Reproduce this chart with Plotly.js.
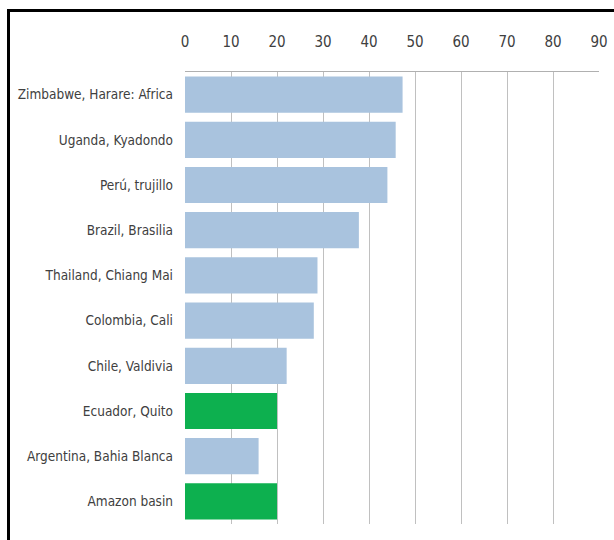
<!DOCTYPE html>
<html>
<head>
<meta charset="utf-8">
<script src="https://cdn.plot.ly/plotly-3.0.1.min.js"></script>
<style>
  html, body { margin: 0; padding: 0; background: #ffffff; }
  #wrap { position: relative; width: 614px; height: 540px; overflow: hidden; }
  #chart { position: absolute; left: 0; top: 0; width: 614px; height: 540px; }
  #frame { position: absolute; left: 7px; top: 9px; width: 700px; height: 600px;
           border-left: 3px solid #000; border-top: 3px solid #000; pointer-events: none; }
</style>
</head>
<body>
<div id="wrap">
  <div id="chart"></div>
  <div id="frame"></div>
</div>
<script>
// Categories, top to bottom
const categories = [
  "Zimbabwe, Harare: Africa",
  "Uganda, Kyadondo",
  "Perú, trujillo",
  "Brazil, Brasilia",
  "Thailand, Chiang Mai",
  "Colombia, Cali",
  "Chile, Valdivia",
  "Ecuador, Quito",
  "Argentina, Bahia Blanca",
  "Amazon basin"
];
const values = [47.3, 45.8, 44.0, 37.8, 28.8, 28.0, 22.1, 20.0, 16.0, 20.0];
const highlighted = ["Ecuador, Quito", "Amazon basin"];
const tickValues = [0, 10, 20, 30, 40, 50, 60, 70, 80, 90];

const blue = "#a9c3de";
const green = "#0db04f";
const colors = categories.map(c => highlighted.includes(c) ? green : blue);

const trace = {
  type: "bar",
  orientation: "h",
  y: categories,
  x: values,
  marker: { color: colors, line: { width: 0 } },
  hoverinfo: "x+y"
};

const fontFam = "'DejaVu Sans Condensed', 'DejaVu Sans', sans-serif";

const layout = {
  width: 614,
  height: 540,
  margin: { l: 185, r: 15, t: 72, b: 16 },
  paper_bgcolor: "#ffffff",
  plot_bgcolor: "#ffffff",
  showlegend: false,
  bargap: 0.2,
  font: { family: fontFam, color: "#404040" },
  xaxis: {
    side: "top",
    range: [0, 90],
    tickvals: tickValues,
    ticktext: tickValues.map(String),
    showgrid: true,
    gridcolor: "#c0c0c0",
    gridwidth: 1,
    zeroline: false,
    showline: true,
    linecolor: "#b0b0b0",
    linewidth: 1,
    mirror: false,
    ticks: "",
    ticklabelstandoff: 18,
    tickfont: { family: fontFam, size: 15, color: "#404040" }
  },
  yaxis: {
    type: "category",
    autorange: "reversed",
    showgrid: false,
    zeroline: false,
    showline: false,
    ticks: "",
    ticklabelstandoff: 11,
    tickfont: { family: fontFam, size: 13.5, color: "#404040" }
  }
};

Plotly.newPlot("chart", [trace], layout, { displayModeBar: false, staticPlot: true });
</script>
</body>
</html>
